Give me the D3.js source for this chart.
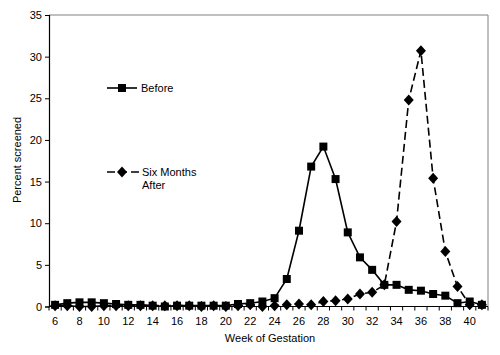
<!DOCTYPE html>
<html><head><meta charset="utf-8">
<script src="https://cdn.jsdelivr.net/npm/d3@7"></script>
<style>body{margin:0;background:#fff}svg{display:block;font-family:"Liberation Sans",Arial,sans-serif}</style>
</head><body><svg id="c" width="500" height="355"></svg>
<script>
const weeks = d3.range(6, 42);
const before = [0.2,0.4,0.5,0.5,0.4,0.3,0.2,0.2,0.1,0.0,0.1,0.1,0.1,0.1,0.1,0.3,0.4,0.6,1.0,3.3,9.1,16.8,19.2,15.3,8.9,5.9,4.4,2.6,2.6,2.0,1.9,1.5,1.3,0.4,0.6,0.2];
const after  = [0.1,0.1,0.0,0.0,0.1,0.1,0.1,0.1,0.1,0.1,0.1,0.1,0.0,0.1,0.0,0.1,0.2,0.0,0.1,0.2,0.3,0.2,0.6,0.7,0.9,1.5,1.7,2.6,10.2,24.8,30.7,15.4,6.6,2.4,0.2,0.2];
const yTicks = [0,5,10,15,20,25,30,35];
const xLabels = d3.range(6, 41, 2);

const svg = d3.select("#c");
const L = 49, R = 488, T = 15, B = 306.5;
const x = d3.scaleBand().domain(weeks).range([L, R]);
const cx = w => x(w) + x.bandwidth()/2;
const y = d3.scaleLinear().domain([0,35]).range([B, T]);

// frame top/right
svg.append("path").attr("d",`M${L},${T}H${R}V${B}`).attr("fill","none").attr("stroke","#808080").attr("stroke-width",1);

// y axis
const ya = svg.append("g").attr("transform",`translate(${L},0)`)
  .call(d3.axisLeft(y).tickValues(yTicks).tickSize(4).tickPadding(3));
ya.select(".domain").attr("stroke","#000").attr("stroke-width",1.2);
ya.selectAll(".tick line").attr("stroke","#000");
ya.selectAll("text").attr("font-size",11).attr("fill","#000").attr("font-family","Liberation Sans, Arial, sans-serif");

// x axis
const xa = svg.append("g").attr("transform",`translate(0,${B})`);
xa.append("line").attr("x1",L).attr("x2",R).attr("stroke","#000").attr("stroke-width",1);
xa.selectAll("line.t").data(weeks.concat([42])).enter().append("line").attr("class","t")
  .attr("x1",w=> w===42 ? R : x(w)).attr("x2",w=> w===42 ? R : x(w)).attr("y1",0).attr("y2",4).attr("stroke","#000");
xa.selectAll("text").data(xLabels).enter().append("text")
  .attr("x",cx).attr("y",18).attr("text-anchor","middle").attr("font-size",11).text(d=>d);

// lines
const line = d3.line().x((d,i)=>cx(weeks[i])).y(d=>y(d));
svg.append("path").datum(after).attr("d",line).attr("fill","none").attr("stroke","#000").attr("stroke-width",1.6).attr("stroke-dasharray","8,4");
svg.append("path").datum(before).attr("d",line).attr("fill","none").attr("stroke","#000").attr("stroke-width",1.6);

const sq = d3.symbol().type(d3.symbolSquare).size(64);
const dm = d => `M0,-5.5L5,0L0,5.5L-5,0Z`;
svg.selectAll("path.a").data(after).enter().append("path").attr("class","a")
  .attr("d",dm()).attr("transform",(d,i)=>`translate(${cx(weeks[i])},${y(d)})`).attr("fill","#000");
svg.selectAll("path.b").data(before).enter().append("path").attr("class","b")
  .attr("d",sq()).attr("transform",(d,i)=>`translate(${cx(weeks[i])},${y(d)})`).attr("fill","#000");

// legend
const lg = svg.append("g");
lg.append("line").attr("x1",107).attr("x2",137).attr("y1",88).attr("y2",88).attr("stroke","#000").attr("stroke-width",1.6);
lg.append("path").attr("d",sq()).attr("transform","translate(122,88)");
lg.append("text").attr("x",141).attr("y",92).attr("font-size",11).text("Before");
lg.append("line").attr("x1",107).attr("x2",139).attr("y1",172).attr("y2",172).attr("stroke","#000").attr("stroke-width",1.6).attr("stroke-dasharray","8,4");
lg.append("path").attr("d",dm()).attr("transform","translate(122,172)");
lg.append("text").attr("x",142).attr("y",176).attr("font-size",11).text("Six Months");
lg.append("text").attr("x",142).attr("y",189).attr("font-size",11).text("After");

// axis titles
svg.append("text").attr("x",270).attr("y",342).attr("text-anchor","middle").attr("font-size",11).text("Week of Gestation");
svg.append("text").attr("transform","translate(21,160) rotate(-90)").attr("text-anchor","middle").attr("font-size",11).text("Percent screened");
</script></body></html>
